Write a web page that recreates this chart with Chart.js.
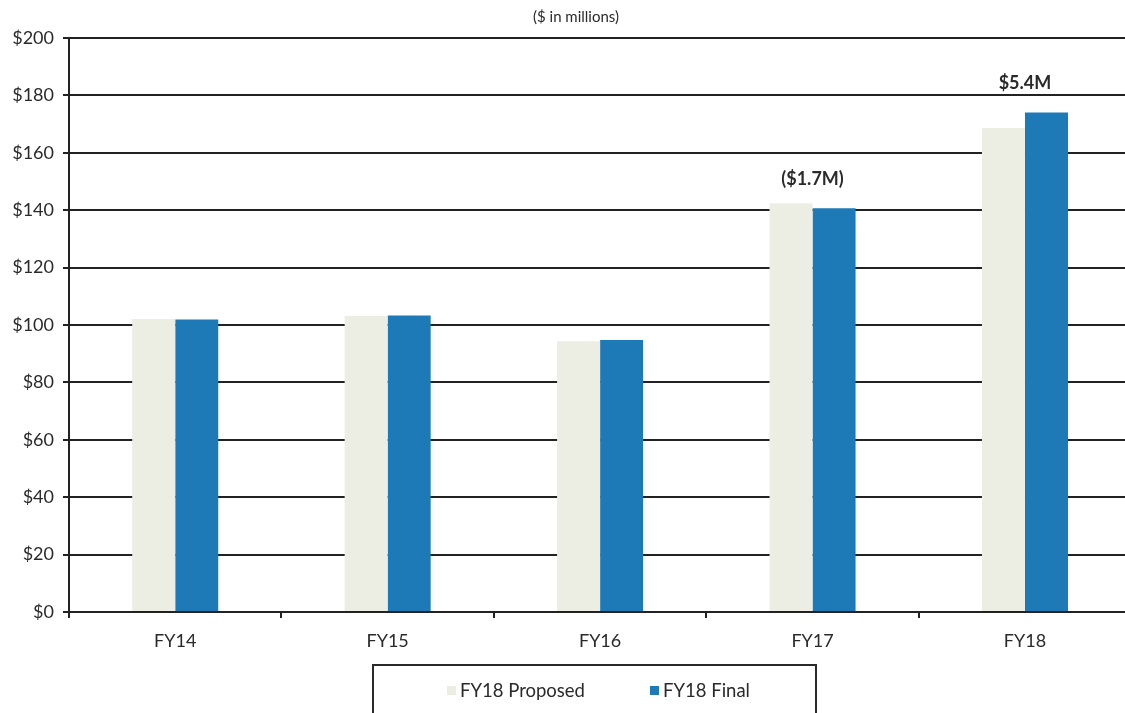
<!DOCTYPE html>
<html>
<head>
<meta charset="utf-8">
<script src="https://cdn.jsdelivr.net/npm/chart.js@4.4.1/dist/chart.umd.min.js"></script>
<style>
  html, body { margin: 0; padding: 0; background: #fff; overflow: hidden; }
  #wrap { position: relative; width: 1125px; height: 713px; overflow: hidden; background: #fff; }
  #chart { position: absolute; left: 0; top: 0; }
  #subtitle { position: absolute; top: 7px; left: 0; width: 1152px; text-align: center;
              font: 15px Lato, sans-serif; color: #2a2a2a; }
  #legend { position: absolute; left: 372px; top: 664px; width: 441px; height: 60px;
            border: 2px solid #2a2a2a; box-sizing: content-box; }
  .lg-item { position: absolute; top: 14px; height: 20px; display: flex; align-items: center;
             font: 18.5px Lato, sans-serif; color: #2a2a2a; white-space: nowrap; }
  .lg-box { width: 9px; height: 9px; margin-right: 4px; }
</style>
</head>
<body>
<div id="wrap">
  <canvas id="chart" width="1140" height="713"></canvas>
  <div id="subtitle">($ in millions)</div>
  <div id="legend"></div>
</div>
<script>
// Fiscal years on the category axis
const years = ['FY14', 'FY15', 'FY16', 'FY17', 'FY18'];
// Budget totals, $ millions
const proposed = [102.1, 103.1, 94.3, 142.4, 168.6];
const final = [101.9, 103.3, 94.8, 140.7, 174.0];
// Years that carry a proposed-to-final change note
const notedYears = ['FY17', 'FY18'];
// Value-axis ticks
const yTicks = [0, 20, 40, 60, 80, 100, 120, 140, 160, 180, 200];
const seriesNames = ['FY18 Proposed', 'FY18 Final'];
const seriesColors = ['#ECEEE4', '#1D7AB6'];

const ink = '#222222';
const textInk = '#2a2a2a';

function changeText(diff) {
  const v = Math.abs(diff).toFixed(1);
  return diff < 0 ? '($' + v + 'M)' : '$' + v + 'M';
}

// Change notes drawn above each noted pair of bars
const changeNotes = {
  id: 'changeNotes',
  afterDatasetsDraw(chart) {
    const ctx = chart.ctx;
    const m0 = chart.getDatasetMeta(0);
    const m1 = chart.getDatasetMeta(1);
    const y = chart.scales.y;
    ctx.save();
    ctx.font = 'bold 18px Lato, sans-serif';
    ctx.fillStyle = textInk;
    ctx.textAlign = 'center';
    ctx.textBaseline = 'middle';
    years.forEach((yr, i) => {
      if (!notedYears.includes(yr)) return;
      const a = m0.data[i], b = m1.data[i];
      const cx = (a.x - a.width / 2 + b.x + b.width / 2) / 2;
      const top = y.getPixelForValue(final[i]);
      ctx.fillText(changeText(final[i] - proposed[i]), cx, top - 29);
    });
    ctx.restore();
  }
};

const chart = new Chart(document.getElementById('chart'), {
  type: 'bar',
  data: {
    labels: years,
    datasets: [
      { label: seriesNames[0], data: proposed, backgroundColor: seriesColors[0],
        categoryPercentage: 0.405, barPercentage: 1.0 },
      { label: seriesNames[1], data: final, backgroundColor: seriesColors[1],
        categoryPercentage: 0.405, barPercentage: 1.0 }
    ]
  },
  options: {
    responsive: false,
    animation: false,
    devicePixelRatio: 1,
    layout: { padding: { top: 38, right: 8.8, bottom: 0, left: 0 } },
    plugins: {
      legend: { display: false },
      title: { display: false },
      tooltip: { enabled: false }
    },
    scales: {
      x: {
        afterFit: s => { s.height = 101; },
        grid: { offset: true, drawOnChartArea: false, drawTicks: true, tickLength: 6,
                color: ink, lineWidth: 2 },
        border: { display: true, color: ink, width: 2 },
        ticks: { color: textInk, font: { family: 'Lato', size: 18 }, padding: 12 }
      },
      y: {
        min: 0, max: 200,
        afterFit: s => { s.width = 69; },
        afterBuildTicks: s => { s.ticks = yTicks.map(v => ({ value: v })); },
        grid: { color: ink, lineWidth: 2, drawTicks: true, tickLength: 6 },
        border: { display: true, color: ink, width: 2 },
        ticks: { color: textInk, font: { family: 'Lato', size: 18 }, padding: 9,
                 callback: v => '$' + v }
      }
    }
  },
  plugins: [changeNotes]
});

// Boxed legend under the axis, built from the chart's datasets
const legendEl = document.getElementById('legend');
const legendLeft = [73, 276];
chart.data.datasets.forEach((ds, i) => {
  const item = document.createElement('div');
  item.className = 'lg-item';
  item.style.left = legendLeft[i] + 'px';
  const box = document.createElement('span');
  box.className = 'lg-box';
  box.style.background = ds.backgroundColor;
  const txt = document.createElement('span');
  txt.textContent = ds.label;
  item.appendChild(box);
  item.appendChild(txt);
  legendEl.appendChild(item);
});
</script>
</body>
</html>
